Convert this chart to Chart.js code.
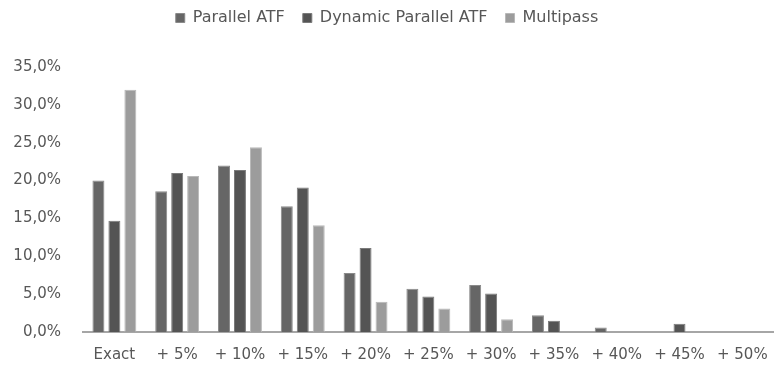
<!DOCTYPE html>
<html>
<head>
<meta charset="utf-8">
<script src="https://cdn.jsdelivr.net/npm/chart.js@4"></script>
<style>
  html, body { margin: 0; padding: 0; background: #fff; }
  #wrap { width: 782px; height: 365px; }
</style>
</head>
<body>
<div id="wrap"><canvas id="c" width="782" height="365"></canvas></div>
<script>
// Share of results within each deviation band from the optimum (%)
const categories = ['Exact', '+ 5%', '+ 10%', '+ 15%', '+ 20%', '+ 25%', '+ 30%', '+ 35%', '+ 40%', '+ 45%', '+ 50%'];
const parallelATF = [20.0, 18.6, 22.0, 16.6, 7.8, 5.7, 6.2, 2.2, 0.6, 0.0, 0.0];
const dynamicParallelATF = [14.7, 21.0, 21.4, 19.1, 11.1, 4.7, 5.1, 1.5, 0.0, 1.1, 0.0];
const multipass = [32.0, 20.6, 24.4, 14.1, 4.0, 3.1, 1.7, 0.0, 0.0, 0.0, 0.0];
const yTicks = [0, 5, 10, 15, 20, 25, 30, 35];

const textColor = '#575757';
const tickFont = { family: 'DejaVu Sans', size: 15 };
const legendFont = { family: 'DejaVu Sans', size: 16 };

// Extra space between the legend and the plot area
const legendGap = {
  id: 'legendGap',
  beforeInit(chart) {
    const fit = chart.legend.fit;
    chart.legend.fit = function () {
      fit.call(this);
      this.height += 31;
    };
  }
};

new Chart(document.getElementById('c'), {
  type: 'bar',
  plugins: [legendGap],
  data: {
    labels: categories,
    datasets: [
      { label: 'Parallel ATF', data: parallelATF, backgroundColor: '#666666', borderColor: '#8a8a8a', borderWidth: 1 },
      { label: 'Dynamic Parallel ATF', data: dynamicParallelATF, backgroundColor: '#545454', borderColor: '#7a7a7a', borderWidth: 1 },
      { label: 'Multipass', data: multipass, backgroundColor: '#9c9c9c', borderColor: '#b8b8b8', borderWidth: 1 }
    ]
  },
  options: {
    responsive: false,
    animation: false,
    layout: { padding: { left: 0, right: 8, top: -8, bottom: 0 } },
    datasets: { bar: { categoryPercentage: 0.763, barPercentage: 0.75 } },
    plugins: {
      tooltip: { enabled: false },
      legend: {
        position: 'top',
        labels: {
          color: textColor,
          font: legendFont,
          boxWidth: 9,
          boxHeight: 9,
          padding: 18
        }
      }
    },
    scales: {
      x: {
        grid: { display: false, drawTicks: false },
        border: { display: true, color: '#a6a6a6', width: 2 },
        ticks: { color: textColor, font: tickFont, padding: 14, maxRotation: 0, autoSkip: false },
        afterFit(scale) { scale.height = 33; }
      },
      y: {
        min: 0,
        max: 35,
        afterBuildTicks(scale) { scale.ticks = yTicks.map(v => ({ value: v })); },
        grid: { display: false, drawTicks: false },
        border: { display: false },
        ticks: {
          color: textColor,
          font: tickFont,
          padding: 22,
          callback: v => v.toFixed(1).replace('.', ',') + '%'
        },
        afterFit(scale) { scale.width = 83; }
      }
    }
  }
});
</script>
</body>
</html>
